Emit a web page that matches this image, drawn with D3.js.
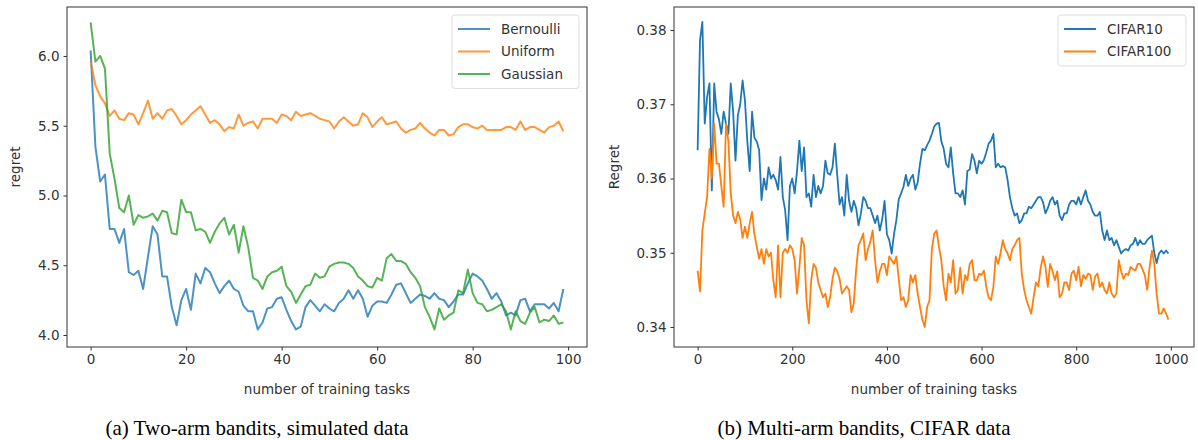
<!DOCTYPE html>
<html>
<head>
<meta charset="utf-8">
<script src="https://cdn.jsdelivr.net/npm/d3@7"></script>
<style>
    body { margin: 0; background: #fff; }
    text { font-family: "DejaVu Sans", sans-serif; }
</style>
</head>
<body>
<div id="chart"></div>
<script>

// panel (a): two-arm bandits, one value per training task (0..99)
let bernoulli = [
    6.04, 5.35, 5.10, 5.15, 4.76, 4.76, 4.66, 4.76, 4.45, 4.43,
    4.46, 4.33, 4.56, 4.78, 4.72, 4.42, 4.42, 4.20, 4.07, 4.25,
    4.33, 4.18, 4.44, 4.37, 4.48, 4.45, 4.37, 4.30, 4.35, 4.39,
    4.33, 4.31, 4.21, 4.17, 4.17, 4.04, 4.09, 4.19, 4.20, 4.26,
    4.27, 4.18, 4.10, 4.04, 4.06, 4.20, 4.25, 4.21, 4.17, 4.22,
    4.19, 4.17, 4.23, 4.26, 4.32, 4.26, 4.32, 4.26, 4.13, 4.21,
    4.24, 4.24, 4.23, 4.29, 4.36, 4.37, 4.30, 4.23, 4.26, 4.29,
    4.28, 4.26, 4.30, 4.26, 4.25, 4.20, 4.24, 4.29, 4.29, 4.37,
    4.44, 4.42, 4.39, 4.33, 4.26, 4.30, 4.24, 4.14, 4.16, 4.14,
    4.25, 4.26, 4.17, 4.22, 4.22, 4.22, 4.19, 4.23, 4.17, 4.33
];
let uniform = [
    5.96, 5.79, 5.71, 5.66, 5.57, 5.61, 5.55, 5.54, 5.59, 5.58,
    5.51, 5.59, 5.68, 5.55, 5.59, 5.55, 5.61, 5.62, 5.57, 5.51,
    5.54, 5.58, 5.61, 5.64, 5.58, 5.52, 5.54, 5.51, 5.46, 5.49,
    5.48, 5.58, 5.50, 5.52, 5.53, 5.48, 5.55, 5.55, 5.55, 5.52,
    5.58, 5.57, 5.54, 5.60, 5.57, 5.58, 5.59, 5.57, 5.55, 5.54,
    5.53, 5.48, 5.53, 5.56, 5.53, 5.50, 5.51, 5.59, 5.56, 5.49,
    5.53, 5.56, 5.51, 5.52, 5.53, 5.48, 5.45, 5.47, 5.48, 5.52,
    5.48, 5.45, 5.43, 5.47, 5.47, 5.43, 5.44, 5.49, 5.51, 5.51,
    5.49, 5.48, 5.50, 5.47, 5.47, 5.47, 5.47, 5.49, 5.49, 5.47,
    5.53, 5.47, 5.49, 5.49, 5.47, 5.45, 5.49, 5.50, 5.53, 5.46
];
let gaussian = [
    6.24, 5.96, 6.00, 5.91, 5.30, 5.12, 4.91, 4.88, 5.00, 4.79,
    4.86, 4.84, 4.85, 4.87, 4.82, 4.89, 4.88, 4.73, 4.72, 4.97,
    4.88, 4.88, 4.75, 4.76, 4.74, 4.66, 4.74, 4.80, 4.84, 4.72,
    4.79, 4.59, 4.78, 4.63, 4.41, 4.39, 4.33, 4.42, 4.45, 4.46,
    4.49, 4.35, 4.31, 4.23, 4.29, 4.35, 4.36, 4.44, 4.41, 4.42,
    4.49, 4.51, 4.52, 4.52, 4.51, 4.48, 4.42, 4.39, 4.35, 4.34,
    4.41, 4.39, 4.55, 4.58, 4.53, 4.53, 4.51, 4.45, 4.41, 4.35,
    4.20, 4.13, 4.04, 4.19, 4.11, 4.14, 4.16, 4.32, 4.30, 4.47,
    4.30, 4.23, 4.22, 4.17, 4.18, 4.20, 4.22, 4.17, 4.04, 4.17,
    4.10, 4.08, 4.16, 4.20, 4.09, 4.11, 4.10, 4.14, 4.08, 4.09
];

// panel (b): multi-arm bandits, read every 5 training tasks (0..995)
let cifar10 = [
    0.3638, 0.3786, 0.3811, 0.3674, 0.3710, 0.3728, 0.3584, 0.3728, 0.3690, 0.3680,
    0.3660, 0.3690, 0.3674, 0.3660, 0.3728, 0.3690, 0.3624, 0.3685, 0.3700, 0.3732,
    0.3705, 0.3650, 0.3610, 0.3690, 0.3655, 0.3650, 0.3638, 0.3571, 0.3600, 0.3585,
    0.3615, 0.3600, 0.3605, 0.3598, 0.3585, 0.3629, 0.3575, 0.3557, 0.3517, 0.3590,
    0.3600, 0.3580, 0.3610, 0.3651, 0.3610, 0.3642,
    0.3575, 0.3580, 0.3562, 0.3605, 0.3575, 0.3590, 0.3580, 0.3590, 0.3624, 0.3607,
    0.3605, 0.3615, 0.3647, 0.3605, 0.3565, 0.3575, 0.3550, 0.3605, 0.3570, 0.3555,
    0.3570, 0.3560, 0.3537, 0.3553, 0.3575, 0.3570, 0.3560, 0.3560, 0.3550, 0.3540,
    0.3550, 0.3530, 0.3545, 0.3570, 0.3525, 0.3517, 0.3499, 0.3525, 0.3544, 0.3572,
    0.3580, 0.3589, 0.3605, 0.3590, 0.3600, 0.3605, 0.3585, 0.3595, 0.3620, 0.3640,
    0.3638, 0.3645, 0.3651, 0.3660, 0.3670, 0.3674, 0.3675, 0.3650, 0.3640, 0.3620,
    0.3615, 0.3642, 0.3607, 0.3580, 0.3580, 0.3575, 0.3584, 0.3565, 0.3610, 0.3612,
    0.3633, 0.3624, 0.3607, 0.3624, 0.3620, 0.3625, 0.3635, 0.3647, 0.3651, 0.3660,
    0.3615, 0.3620, 0.3615, 0.3617, 0.3615, 0.3598, 0.3575, 0.3560, 0.3550, 0.3553,
    0.3540, 0.3544, 0.3553, 0.3553, 0.3562, 0.3560, 0.3565, 0.3570, 0.3575, 0.3575,
    0.3568,
    0.3553, 0.3560, 0.3570, 0.3575, 0.3565, 0.3570, 0.3550, 0.3544, 0.3553, 0.3553,
    0.3565, 0.3570, 0.3570, 0.3565, 0.3575, 0.3565, 0.3575, 0.3584, 0.3570, 0.3565,
    0.3555, 0.3550, 0.3550, 0.3555, 0.3530, 0.3517, 0.3530, 0.3517, 0.3520, 0.3510,
    0.3517, 0.3508, 0.3499, 0.3503, 0.3505, 0.3503, 0.3510, 0.3512, 0.3520, 0.3510,
    0.3517, 0.3512, 0.3512, 0.3517, 0.3520, 0.3523, 0.3500, 0.3486, 0.3499, 0.3503,
    0.3499, 0.3503, 0.3499
];
let cifar100 = [
    0.3476, 0.3448, 0.3530, 0.3553, 0.3575, 0.3640, 0.3600, 0.3674, 0.3620, 0.3620,
    0.3590, 0.3562, 0.3674, 0.3650, 0.3580, 0.3550, 0.3540, 0.3555, 0.3545, 0.3520,
    0.3535, 0.3520, 0.3540, 0.3555, 0.3525, 0.3508, 0.3492, 0.3505, 0.3485, 0.3505,
    0.3495, 0.3500, 0.3463, 0.3440, 0.3510, 0.3440, 0.3500, 0.3505, 0.3500, 0.3510,
    0.3505, 0.3490, 0.3445, 0.3480, 0.3520, 0.3510,
    0.3436, 0.3405, 0.3463, 0.3485, 0.3480, 0.3460, 0.3450, 0.3440, 0.3445, 0.3427,
    0.3440, 0.3465, 0.3480, 0.3475, 0.3465, 0.3445, 0.3450, 0.3455, 0.3450, 0.3420,
    0.3432, 0.3478, 0.3510, 0.3517, 0.3526, 0.3490, 0.3505, 0.3515, 0.3530, 0.3490,
    0.3460, 0.3475, 0.3485, 0.3485, 0.3470, 0.3495, 0.3490, 0.3485, 0.3495, 0.3465,
    0.3436, 0.3440, 0.3427, 0.3436, 0.3470, 0.3460, 0.3470, 0.3445, 0.3427, 0.3410,
    0.3400, 0.3427, 0.3436, 0.3505, 0.3526, 0.3530, 0.3508, 0.3490, 0.3455, 0.3436,
    0.3472, 0.3460, 0.3490, 0.3445, 0.3450, 0.3480, 0.3445, 0.3470, 0.3463, 0.3485,
    0.3490, 0.3463, 0.3463, 0.3472, 0.3470, 0.3476, 0.3454, 0.3440, 0.3436, 0.3454,
    0.3495, 0.3485, 0.3499, 0.3517, 0.3505, 0.3499, 0.3490, 0.3505, 0.3510, 0.3517,
    0.3520, 0.3472, 0.3450, 0.3436, 0.3427, 0.3418, 0.3440, 0.3460, 0.3455, 0.3480,
    0.3495,
    0.3481, 0.3454, 0.3485, 0.3475, 0.3463, 0.3475, 0.3440, 0.3445, 0.3460, 0.3460,
    0.3450, 0.3472, 0.3476, 0.3463, 0.3481, 0.3455, 0.3470, 0.3465, 0.3472, 0.3470,
    0.3450, 0.3468, 0.3472, 0.3454, 0.3460, 0.3450, 0.3445, 0.3460, 0.3445, 0.3440,
    0.3445, 0.3490, 0.3475, 0.3465, 0.3472, 0.3470, 0.3481, 0.3478, 0.3476, 0.3485,
    0.3485, 0.3478, 0.3470, 0.3450, 0.3480, 0.3503, 0.3485, 0.3445, 0.3418, 0.3418,
    0.3425, 0.3418, 0.3410
];

// tick labels
let ticksAX = [0, 20, 40, 60, 80, 100];
let ticksAY = [4.0, 4.5, 5.0, 5.5, 6.0];
let ticksBX = [0, 200, 400, 600, 800, 1000];
let ticksBY = [0.34, 0.35, 0.36, 0.37, 0.38];

let blue = "#1f77b4", orange = "#ff7f0e", green = "#2ca02c";

let width = 1198;
let height = 440;

let svg = d3.select("#chart")
            .append("svg")
            .attr("width", width)
            .attr("height", height);

function drawPanel(p) {
    let g = svg.append("g").attr("transform", `translate(${p.left}, ${p.top})`);

    let xScale = d3.scaleLinear().domain(p.xDomain).range([0, p.w]);
    let yScale = d3.scaleLinear().domain(p.yDomain).range([p.h, 0]);

    // lines
    let line = d3.line()
                 .x((d, i) => xScale(i * p.step))
                 .y(d => yScale(d));

    p.series.forEach(s => {
        g.append("path")
         .datum(s.values)
         .attr("fill", "none")
         .attr("stroke", s.color)
         .attr("stroke-width", p.lineWidth)
         .attr("stroke-opacity", p.opacity)
         .attr("stroke-linejoin", "round")
         .attr("d", line);
    });

    // axes
    let xAxis = d3.axisBottom(xScale).tickValues(p.xTicks).tickSize(3.5).tickPadding(4).tickFormat(p.xFormat);
    let yAxis = d3.axisLeft(yScale).tickValues(p.yTicks).tickSize(3.5).tickPadding(4).tickFormat(p.yFormat);

    let gx = g.append("g").attr("transform", `translate(0, ${p.h})`).call(xAxis);
    let gy = g.append("g").call(yAxis);
    [gx, gy].forEach(a => {
        a.select(".domain").remove();
        a.selectAll("line").attr("stroke", "#333");
        a.selectAll("text").attr("fill", "#333").style("font-size", "13.5px");
    });

    // frame
    g.append("rect")
     .attr("width", p.w).attr("height", p.h)
     .attr("fill", "none").attr("stroke", "#333").attr("stroke-width", 1);

    // axis titles
    g.append("text")
     .attr("x", p.w / 2).attr("y", p.h + 47)
     .attr("text-anchor", "middle")
     .attr("fill", "#333").style("font-size", "13.5px")
     .text("number of training tasks");

    g.append("text")
     .attr("transform", "rotate(-90)")
     .attr("x", -p.h / 2 + 10).attr("y", p.yLabelX)
     .attr("text-anchor", "middle")
     .attr("fill", "#333").style("font-size", "13.5px")
     .text(p.yLabel);

    // legend
    let lg = g.append("g").attr("transform", `translate(${p.w - p.legendW - 8}, 8)`);
    lg.append("rect")
      .attr("width", p.legendW).attr("height", p.series.length * 22.5 + 6)
      .attr("rx", 3)
      .attr("fill", "#fff").attr("fill-opacity", 0.85)
      .attr("stroke", "#ddd");
    p.series.forEach((s, i) => {
        let yy = 14 + i * 22.5;
        lg.append("line")
          .attr("x1", 6).attr("x2", 38).attr("y1", yy).attr("y2", yy)
          .attr("stroke", s.color).attr("stroke-width", 2).attr("stroke-opacity", p.opacity);
        lg.append("text")
          .attr("x", 49).attr("y", yy + 4.5)
          .attr("fill", "#333").style("font-size", "13.5px")
          .text(s.name);
    });

    // caption
    svg.append("text")
       .attr("x", p.left + p.w / 2 - 70).attr("y", 435)
       .attr("text-anchor", "middle")
       .style("font-family", "'Liberation Serif', 'Times New Roman', serif")
       .style("font-size", "21px")
       .attr("fill", "#000")
       .text(p.caption);
}

drawPanel({
    left: 67, top: 7, w: 520, h: 340,
    xDomain: [-4.95, 103.95], yDomain: [3.914, 6.351], step: 1,
    xTicks: ticksAX, yTicks: ticksAY,
    xFormat: d3.format("d"), yFormat: d3.format(".1f"),
    lineWidth: 2, opacity: 0.8,
    yLabel: "regret", yLabelX: -47,
    legendW: 127,
    caption: "(a) Two-arm bandits, simulated data",
    series: [
        { name: "Bernoulli", values: bernoulli, color: blue },
        { name: "Uniform", values: uniform, color: orange },
        { name: "Gaussian", values: gaussian, color: green }
    ]
});

drawPanel({
    left: 674, top: 7, w: 520, h: 340,
    xDomain: [-49.95, 1048.95], yDomain: [0.33731, 0.3831], step: 5,
    xTicks: ticksBX, yTicks: ticksBY,
    xFormat: d3.format("d"), yFormat: d3.format(".2f"),
    lineWidth: 1.8, opacity: 1,
    yLabel: "Regret", yLabelX: -55,
    legendW: 128,
    caption: "(b) Multi-arm bandits, CIFAR data",
    series: [
        { name: "CIFAR10", values: cifar10, color: blue },
        { name: "CIFAR100", values: cifar100, color: orange }
    ]
});

</script>
</body>
</html>
